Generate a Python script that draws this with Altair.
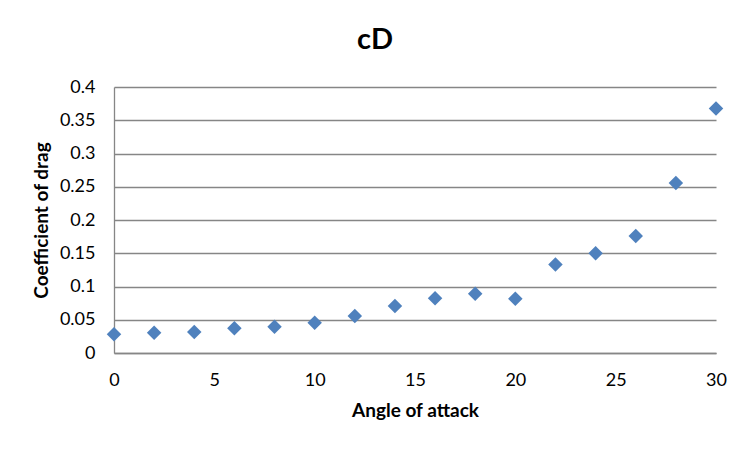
import altair as alt
import pandas as pd

angle = [0, 2, 4, 6, 8, 10, 12, 14, 16, 18, 20, 22, 24, 26, 28, 30]
cd = [0.0283, 0.0303, 0.0314, 0.0374, 0.0394, 0.0455, 0.0556, 0.0707,
      0.0824, 0.0890, 0.0814, 0.1330, 0.1500, 0.1758, 0.2556, 0.3677]

df = pd.DataFrame({"angle": angle, "cd": cd})

FONT = "Lato"
GRAY = "#868686"

chart = alt.Chart(df).mark_point(
    shape="diamond", filled=True, size=210, color="#4F81BD", opacity=1
).encode(
    x=alt.X("angle:Q", scale=alt.Scale(domain=[0, 30], nice=False),
            axis=alt.Axis(title="Angle of attack", values=[0, 5, 10, 15, 20, 25, 30],
                          grid=False, ticks=False, labelPadding=18, labelFlush=False,
                          titlePadding=12)),
    y=alt.Y("cd:Q", scale=alt.Scale(domain=[0, 0.4], nice=False),
            axis=alt.Axis(title="Coefficient of drag",
                          values=[0, 0.05, 0.1, 0.15, 0.2, 0.25, 0.3, 0.35, 0.4],
                          format="~g", grid=True, ticks=False, labelPadding=19,
                          labelFlush=False, titlePadding=8)),
).properties(
    width=602, height=266,
    title=alt.TitleParams("cD", fontSize=29, font=FONT, fontWeight="bold",
                          color="#000000", anchor="middle", dx=-40, offset=23),
    autosize=alt.AutoSizeParams(type="none"),
    padding={"left": 106, "top": 79, "right": 26, "bottom": 90},
).configure_axis(
    labelFont=FONT, labelFontSize=18, labelColor="#000000",
    titleFont=FONT, titleFontSize=19, titleFontWeight="bold", titleColor="#000000",
    domainColor=GRAY, domainWidth=1.3, gridColor=GRAY, gridWidth=1.3,
).configure_view(stroke=None)

chart.save("out.html", embed_options={"renderer": "svg", "actions": False})
